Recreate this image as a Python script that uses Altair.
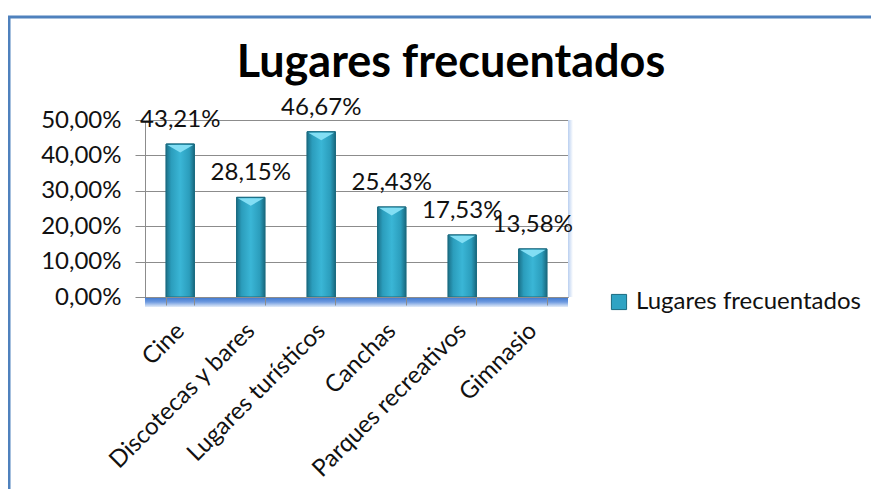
import altair as alt
import pandas as pd

categories = ["Cine", "Discotecas y bares", "Lugares turísticos", "Canchas",
              "Parques recreativos", "Gimnasio"]
values = [0.4321, 0.2815, 0.4667, 0.2543, 0.1753, 0.1358]
series_name = "Lugares frecuentados"
title_text = "Lugares frecuentados"
y_ticks = [0, 0.1, 0.2, 0.3, 0.4, 0.5]

df = pd.DataFrame({"cat": categories, "v": values, "serie": [series_name] * len(values)})
one = pd.DataFrame({"t": [title_text]})

W, H = 423, 177
FONT = "Lato"
FS = 24

x = alt.X("cat:N", sort=categories, title=None,
          scale=alt.Scale(paddingInner=0.6, paddingOuter=0.3),
          axis=alt.Axis(labelAngle=-45, labelAlign="right", labelBaseline="middle",
                        labelFont=FONT, labelFontSize=FS, labelColor="#111",
                        labelPadding=22, labelLimit=400, tickBand="extent", tickSize=8,
                        tickColor="#8c8c8c", domainColor="#8c8c8c", zindex=1))
y = alt.Y("v:Q", title=None,
          scale=alt.Scale(domain=[0, 0.5], nice=False),
          axis=alt.Axis(values=y_ticks, labelExpr="replace(format(datum.value, '.2%'), '.', ',')",
                        labelFont=FONT, labelFontSize=FS, labelColor="#111",
                        tickSize=10, labelPadding=14, tickColor="#8c8c8c",
                        domainColor="#8c8c8c", gridColor="#8c8c8c", grid=True))

floor = alt.Chart(one).mark_rect(
    fill=alt.Gradient(gradient="linear", x1=0, x2=0, y1=0, y2=1,
                      stops=[alt.GradientStop(color="#3a74cc", offset=0),
                             alt.GradientStop(color="#6f9be0", offset=0.5),
                             alt.GradientStop(color="#e3ecf8", offset=1)])
).encode(x=alt.value(0), x2=alt.value(W), y=alt.value(H), y2=alt.value(H + 10))

shadow = alt.Chart(one).mark_rect(
    fill=alt.Gradient(gradient="linear", x1=0, x2=1, y1=0, y2=0,
                      stops=[alt.GradientStop(color="#b9cff0", offset=0),
                             alt.GradientStop(color="#ffffff", offset=1)])
).encode(x=alt.value(W), x2=alt.value(W + 5), y=alt.value(0), y2=alt.value(H))

base = alt.Chart(df)

bars_legend = base.mark_bar(stroke="#1b6b80", strokeWidth=1).encode(
    x=x, y=y,
    color=alt.Color("serie:N", title=None,
                    scale=alt.Scale(range=["#2fa3c3"]),
                    legend=alt.Legend(orient="none", legendX=462, legendY=170,
                                      symbolType="square", symbolSize=230,
                                      symbolStrokeColor="#1b6b80", symbolStrokeWidth=1,
                                      labelFont=FONT, labelFontSize=FS, labelColor="#111",
                                      labelOffset=5, padding=0, labelLimit=400)))

bars_grad = base.mark_bar(
    stroke="#1b6b80", strokeWidth=1,
    fill=alt.Gradient(gradient="linear", x1=0, x2=1, y1=0, y2=0,
                      stops=[alt.GradientStop(color="#1b7189", offset=0),
                             alt.GradientStop(color="#2b9dbc", offset=0.18),
                             alt.GradientStop(color="#3ab6d6", offset=0.5),
                             alt.GradientStop(color="#2b9dbc", offset=0.82),
                             alt.GradientStop(color="#196a80", offset=1)])
).encode(x=x, y=y)

bevel = base.mark_point(
    shape="M -0.92 0.06 L 0.92 0.06 L 0 0.6 Z", filled=True, size=784,
    color="#82def4", opacity=1, strokeWidth=0
).encode(x=x, y=y)

labels = base.mark_text(
    font=FONT, fontSize=FS, color="#111", baseline="middle", dy=-24
).transform_calculate(
    lbl="replace(format(datum.v, '.2%'), '.', ',')"
).encode(x=x, y=y, text="lbl:N")

title = alt.Chart(one).mark_text(
    font=FONT, fontSize=45, fontWeight="bold", color="#000",
    align="center", baseline="alphabetic"
).encode(x=alt.value(306), y=alt.value(-43), text="t:N")

border_left = alt.Chart(one).mark_rule(color="#4f81bd", strokeWidth=3).encode(
    x=alt.value(-136), x2=alt.value(-136), y=alt.value(-103), y2=alt.value(420))
border_top = alt.Chart(one).mark_rule(color="#4f81bd", strokeWidth=3).encode(
    x=alt.value(-137), x2=alt.value(760), y=alt.value(-103), y2=alt.value(-103))

chart = alt.layer(
    floor, shadow, bars_legend, bars_grad, bevel, labels, title, border_left, border_top
).properties(
    width=W, height=H,
    autosize=alt.AutoSizeParams(type="none"),
    padding={"left": 137, "top": 112, "right": 303, "bottom": 192},
).configure_view(stroke=None).configure(background="white")

chart.save("out.html", embed_options={"renderer": "svg", "actions": False})
